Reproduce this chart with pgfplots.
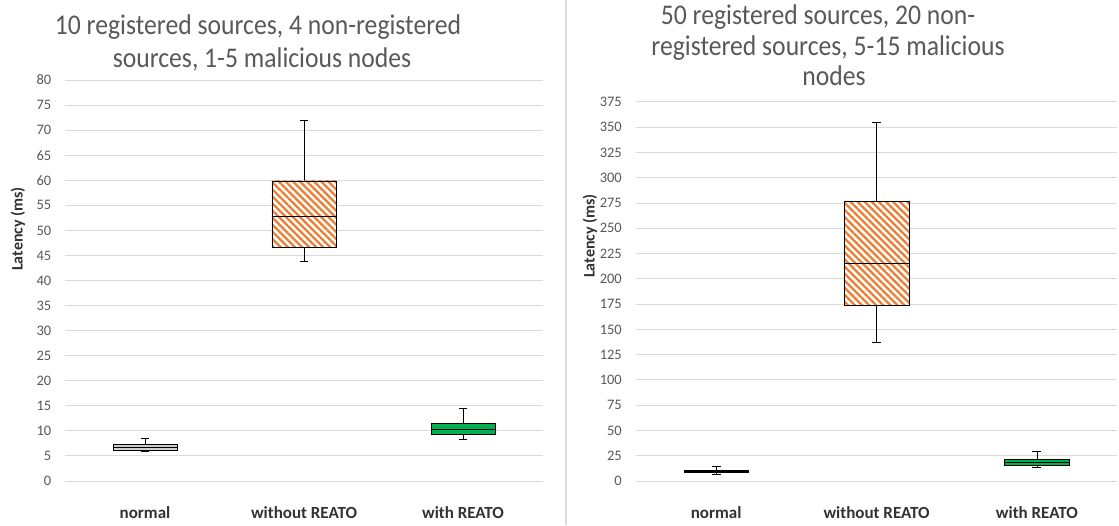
\documentclass[border=0pt]{standalone}
\usepackage{pgfplots}
\pgfplotsset{compat=1.18}
\usepgfplotslibrary{statistics}
\usetikzlibrary{patterns.meta}
\usepackage{fontspec}
\setmainfont{Carlito}
\newfontfamily\titlefont[FakeStretch=0.9]{Carlito}
\definecolor{txtgray}{RGB}{89,89,89}
\definecolor{lblgray}{RGB}{50,50,50}
\definecolor{gridgray}{RGB}{217,217,217}
\definecolor{xlorange}{RGB}{237,125,49}
\definecolor{xlgreen}{RGB}{0,176,80}
\definecolor{boxgray}{RGB}{205,205,205}

\pgfplotsset{
  /pgfplots/boxplot/draw/.code={%
      \path[/pgfplots/boxplot/every box/.try]
        (boxplot box cs:\pgfplotsboxplotvalue{lower quartile},0) rectangle
        (boxplot box cs:\pgfplotsboxplotvalue{upper quartile},1);
      \draw[draw=txtgray, line width=1.4pt]
        (boxplot cs:\pgfplotsboxplotvalue{lower whisker}) --
        (boxplot cs:\pgfplotsboxplotvalue{upper whisker});
      \draw[draw=txtgray, line width=1.4pt]
        (boxplot whisker cs:\pgfplotsboxplotvalue{lower whisker},0) --
        (boxplot whisker cs:\pgfplotsboxplotvalue{lower whisker},1)
        (boxplot whisker cs:\pgfplotsboxplotvalue{upper whisker},0) --
        (boxplot whisker cs:\pgfplotsboxplotvalue{upper whisker},1);
      \draw[draw=black, line width=2pt]
        (boxplot box cs:\pgfplotsboxplotvalue{lower quartile},0) rectangle
        (boxplot box cs:\pgfplotsboxplotvalue{upper quartile},1);
      \draw[draw=black, line width=2pt]
        (boxplot box cs:\pgfplotsboxplotvalue{median},0) --
        (boxplot box cs:\pgfplotsboxplotvalue{median},1);
  },
}
\pgfplotsset{
  mybox/.style={
    boxplot/draw direction=y,
    boxplot/box extend=0.405,
    boxplot/whisker extend=0.055,
  },
  myaxis/.style={
    scale only axis,
    anchor=south west,
    xmin=-0.5, xmax=2.5,
    ymin=0,
    xtick={0,1,2},
    xticklabels={normal,without REATO,with REATO},
    axis line style={draw=none},
    major tick length=0pt,
    ymajorgrids,
    grid style={draw=gridgray, line width=1pt},
    /pgf/number format/assume math mode=true,
    yticklabel style={anchor=east, inner sep=0pt, xshift=-14pt,
      font=\fontsize{14.5}{17}\selectfont, text=txtgray},
    xticklabel style={anchor=base, inner sep=0pt, yshift=-37pt,
      font=\bfseries\fontsize{17}{20}\selectfont, text=lblgray},
    clip=false,
  },
}

\begin{document}
\begin{tikzpicture}
\useasboundingbox[fill=white] (0pt,0pt) rectangle (1119pt,525pt);
\draw[draw=gridgray, line width=1.5pt] (566pt,0pt) -- (566pt,525pt);

% Left chart
\begin{axis}[myaxis, at={(65.5pt,44pt)}, width=477pt, height=401pt,
  ymax=80, ytick distance=5]
\addplot[mybox, boxplot prepared={draw position=0,
  lower whisker=6.0, lower quartile=6.2, median=6.8,
  upper quartile=7.4, upper whisker=8.6},
  boxplot/every box/.style={fill=boxgray}] coordinates {};
\addplot[mybox, boxplot prepared={draw position=1,
  lower whisker=43.9, lower quartile=46.6, median=52.8,
  upper quartile=59.9, upper whisker=71.9},
  boxplot/every box/.style={fill=white,
    postaction={pattern={Lines[angle=-45,distance=5pt,line width=2.3pt]},
      pattern color=xlorange}}] coordinates {};
\addplot[mybox, boxplot prepared={draw position=2,
  lower whisker=8.3, lower quartile=9.3, median=10.4,
  upper quartile=11.5, upper whisker=14.5},
  boxplot/every box/.style={fill=xlgreen}] coordinates {};
\end{axis}

% Right chart
\begin{axis}[myaxis, at={(636pt,44pt)}, width=481pt, height=379pt,
  ymax=375, ytick distance=25]
\addplot[mybox, boxplot prepared={draw position=0,
  lower whisker=7.2, lower quartile=8.3, median=9.5,
  upper quartile=10.8, upper whisker=14.8},
  boxplot/every box/.style={fill=boxgray}] coordinates {};
\addplot[mybox, boxplot prepared={draw position=1,
  lower whisker=137.8, lower quartile=174.1, median=215.4,
  upper quartile=276.4, upper whisker=354.9},
  boxplot/every box/.style={fill=white,
    postaction={pattern={Lines[angle=-45,distance=5pt,line width=2.3pt]},
      pattern color=xlorange}}] coordinates {};
\addplot[mybox, boxplot prepared={draw position=2,
  lower whisker=13.2, lower quartile=15.8, median=18.8,
  upper quartile=21.8, upper whisker=29.7},
  boxplot/every box/.style={fill=xlgreen}] coordinates {};
\end{axis}

% Titles
\begin{scope}[every node/.style={anchor=base, inner sep=0pt, text=txtgray,
   font=\titlefont\fontsize{28.5}{33}\selectfont}]
\node at (258pt,490pt) {10 registered sources, 4 non-registered};
\node at (262pt,457pt) {sources, 1-5 malicious nodes};
\node at (818pt,500pt) {50 registered sources, 20 non-};
\node at (828pt,469pt) {registered sources, 5-15 malicious};
\node at (834pt,439pt) {nodes};
\end{scope}

% Y axis labels
\node[rotate=90, inner sep=0pt, text=lblgray, font=\bfseries\fontsize{16}{19}\selectfont]
  at (18pt,296pt) {Latency (ms)};
\node[rotate=90, inner sep=0pt, text=lblgray, font=\bfseries\fontsize{16}{19}\selectfont]
  at (590pt,289pt) {Latency (ms)};
\end{tikzpicture}
\end{document}
